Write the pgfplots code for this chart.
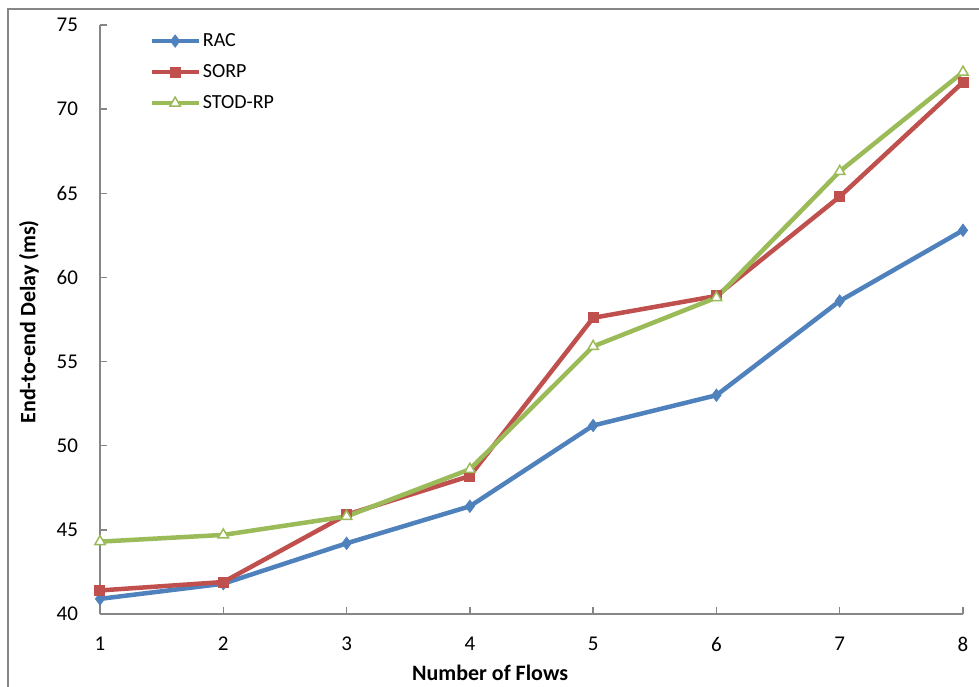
\documentclass[border=0pt]{standalone}
\usepackage{fontspec}
\setmainfont{Carlito}
\usepackage{pgfplots}
\pgfplotsset{compat=1.18}
\definecolor{racblue}{HTML}{4F81BD}
\definecolor{sorpred}{HTML}{C0504D}
\definecolor{stodgreen}{HTML}{9BBB59}
\definecolor{axisgray}{HTML}{868686}
\begin{document}
\begin{tikzpicture}
\useasboundingbox (0,0) rectangle (489.5pt,343pt);
\draw[axisgray, line width=0.6pt] (4pt,-5pt) -- (4pt,338.5pt) -- (495pt,338.5pt);
\begin{axis}[
  at={(50pt,36pt)}, anchor=south west,
  scale only axis, width=431.5pt, height=294.5pt,
  xmin=1, xmax=8, ymin=40, ymax=75,
  xtick={1,...,8}, ytick={40,45,...,75},
  axis lines=left,
  axis line style={-, draw=axisgray, line width=0.75pt},
  tick align=inside, major tick length=3.5pt,
  tick style={axisgray, line width=0.75pt},
  /pgf/number format/assume math mode=true,
  ticklabel style={font=\fontsize{10.5}{12}\selectfont},
  yticklabel style={xshift=-7.5pt},
  xticklabel style={yshift=-8pt},
  xlabel={Number of Flows},
  ylabel={End-to-end Delay (ms)},
  xlabel style={font=\bfseries\fontsize{11}{13}\selectfont, at={(axis description cs:0.452,-0.0991)}, anchor=center},
  ylabel style={font=\bfseries\fontsize{11}{13}\selectfont, at={(axis description cs:-0.0823,0.496)}, anchor=center},
  clip=false,
  legend style={at={(axis description cs:0,1)}, anchor=north west, xshift=24.5pt, yshift=-2.35pt,
    draw=none, fill=none, inner sep=0pt, font=\fontsize{10}{12}\selectfont,
    row sep=4.5pt, column sep=0pt,
    nodes={inner sep=1pt, text height=7pt, text depth=2pt, anchor=west}},
  legend cell align=left,
  legend image code/.code={\draw[mark repeat=2, mark phase=2, #1] plot coordinates {(0pt,0pt) (11.75pt,0pt) (23.5pt,0pt)};},
]
\addplot[racblue, line width=2.25pt, mark=diamond*, mark size=3pt, mark options={solid, fill=racblue, line width=0.5pt}]
  coordinates {(1,40.9)(2,41.8)(3,44.2)(4,46.4)(5,51.2)(6,53.0)(7,58.6)(8,62.8)};
\addlegendentry{RAC}
\addplot[sorpred, line width=2.25pt, mark=square*, mark size=2.5pt, mark options={solid, fill=sorpred, line width=0.5pt}]
  coordinates {(1,41.4)(2,41.9)(3,45.9)(4,48.2)(5,57.6)(6,58.9)(7,64.8)(8,71.6)};
\addlegendentry{SORP}
\addplot[stodgreen, line width=2.25pt, mark=triangle*, mark size=3pt, mark options={solid, fill=white, line width=0.75pt}]
  coordinates {(1,44.3)(2,44.7)(3,45.8)(4,48.6)(5,55.9)(6,58.8)(7,66.3)(8,72.2)};
\addlegendentry{STOD-RP}
\end{axis}
\end{tikzpicture}
\end{document}
